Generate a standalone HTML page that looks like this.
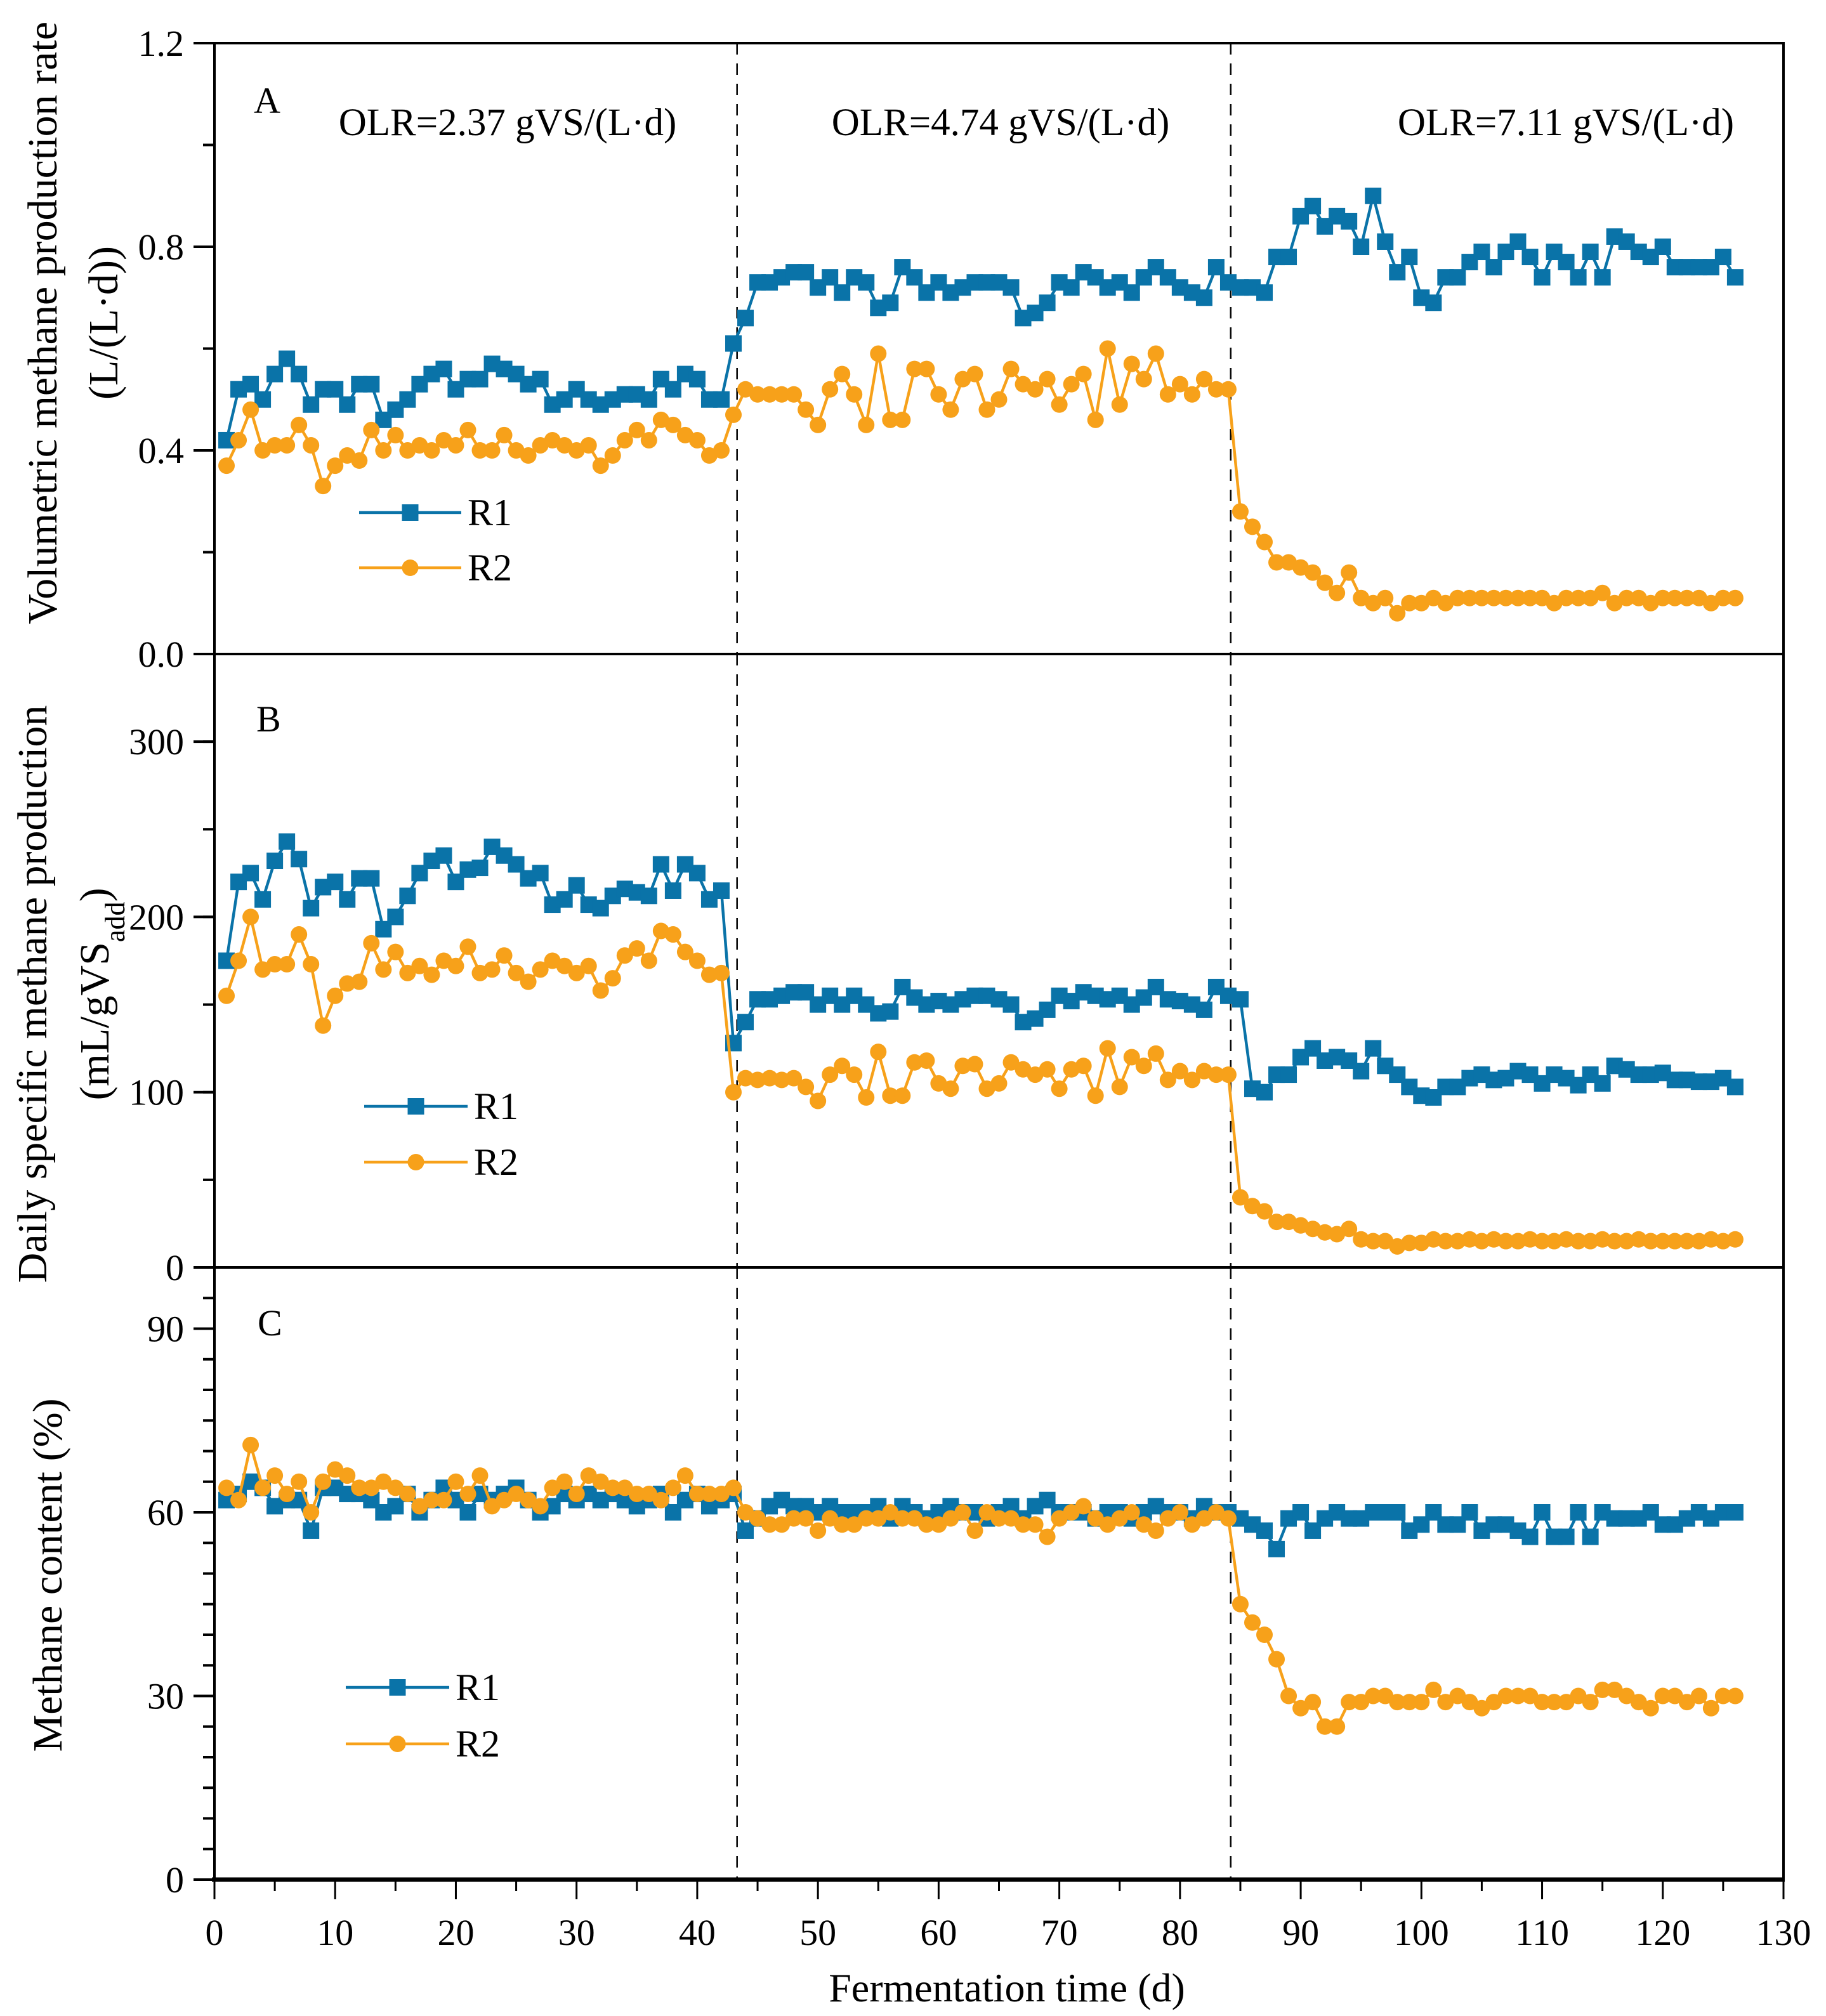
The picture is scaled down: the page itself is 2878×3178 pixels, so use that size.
<!DOCTYPE html>
<html><head><meta charset="utf-8"><style>
html,body{margin:0;padding:0;background:#fff;}
svg{display:block;font-family:"Liberation Serif",serif;}
</style></head><body>
<svg id="chart" width="2878" height="3178" viewBox="0 0 2878 3178" xmlns="http://www.w3.org/2000/svg"></svg>
<script>
const aR1=[0.42,0.52,0.53,0.50,0.55,0.58,0.55,0.49,0.52,0.52, 0.49,0.53,0.53,0.46,0.48,0.50,0.53,0.55,0.56,0.52, 0.54,0.54,0.57,0.56,0.55,0.53,0.54,0.49,0.50,0.52, 0.50,0.49,0.50,0.51,0.51,0.50,0.54,0.52,0.55,0.54, 0.50,0.50,0.61,0.66,0.73,0.73,0.74,0.75,0.75,0.72, 0.74,0.71,0.74,0.73,0.68,0.69,0.76,0.74,0.71,0.73, 0.71,0.72,0.73,0.73,0.73,0.72,0.66,0.67,0.69,0.73, 0.72,0.75,0.74,0.72,0.73,0.71,0.74,0.76,0.74,0.72, 0.71,0.70,0.76,0.73,0.72,0.72,0.71,0.78,0.78,0.86, 0.88,0.84,0.86,0.85,0.80,0.90,0.81,0.75,0.78,0.70, 0.69,0.74,0.74,0.77,0.79,0.76,0.79,0.81,0.78,0.74, 0.79,0.77,0.74,0.79,0.74,0.82,0.81,0.79,0.78,0.80, 0.76,0.76,0.76,0.76,0.78,0.74];
const aR2=[0.37,0.42,0.48,0.40,0.41,0.41,0.45,0.41,0.33,0.37, 0.39,0.38,0.44,0.40,0.43,0.40,0.41,0.40,0.42,0.41, 0.44,0.40,0.40,0.43,0.40,0.39,0.41,0.42,0.41,0.40, 0.41,0.37,0.39,0.42,0.44,0.42,0.46,0.45,0.43,0.42, 0.39,0.40,0.47,0.52,0.51,0.51,0.51,0.51,0.48,0.45, 0.52,0.55,0.51,0.45,0.59,0.46,0.46,0.56,0.56,0.51, 0.48,0.54,0.55,0.48,0.50,0.56,0.53,0.52,0.54,0.49, 0.53,0.55,0.46,0.60,0.49,0.57,0.54,0.59,0.51,0.53, 0.51,0.54,0.52,0.52,0.28,0.25,0.22,0.18,0.18,0.17, 0.16,0.14,0.12,0.16,0.11,0.10,0.11,0.08,0.10,0.10, 0.11,0.10,0.11,0.11,0.11,0.11,0.11,0.11,0.11,0.11, 0.10,0.11,0.11,0.11,0.12,0.10,0.11,0.11,0.10,0.11, 0.11,0.11,0.11,0.10,0.11,0.11];
const bR1=[175,220,225,210,232,243,233,205,217,220, 210,222,222,193,200,212,225,232,235,220, 227,228,240,235,230,222,225,207,210,218, 207,205,212,216,214,212,230,215,230,225, 210,215,128,140,153,153,155,157,157,150, 155,150,155,150,145,146,160,154,150,152, 150,153,155,155,153,150,140,142,147,155, 152,157,155,153,155,150,154,160,153,152, 150,147,160,155,153,102,100,110,110,120, 125,118,120,118,112,125,115,110,103,98, 97,103,103,108,110,107,108,112,110,105, 110,108,104,110,105,115,113,110,110,111, 107,107,106,106,108,103];
const bR2=[155,175,200,170,173,173,190,173,138,155, 162,163,185,170,180,168,172,167,175,172, 183,168,170,178,168,163,170,175,172,168, 172,158,165,178,182,175,192,190,180,175, 167,168,100,108,107,108,107,108,103,95, 110,115,110,97,123,98,98,117,118,105, 102,115,116,102,105,117,113,110,113,102, 113,115,98,125,103,120,115,122,107,112, 107,112,110,110,40,35,32,26,26,24, 22,20,19,22,16,15,15,12,14,14, 16,15,15,16,15,16,15,15,16,15, 15,16,15,15,16,15,15,16,15,15, 15,15,15,16,15,16];
const cR1=[62,63,65,64,61,62,62,57,64,64, 63,63,62,60,61,63,60,62,64,62, 60,63,62,63,64,62,60,61,63,62, 63,62,63,62,61,62,63,60,62,63, 61,62,63,57,59,61,62,61,61,60, 61,60,60,60,61,59,61,60,59,60, 61,60,60,59,60,61,59,61,62,60, 60,60,59,60,60,59,60,61,60,60, 59,61,60,60,59,58,57,54,59,60, 57,59,60,59,59,60,60,60,57,58, 60,58,58,60,57,58,58,57,56,60, 56,56,60,56,60,59,59,59,60,58, 58,59,60,59,60,60];
const cR2=[64,62,71,64,66,63,65,60,65,67, 66,64,64,65,64,63,61,62,62,65, 63,66,61,62,63,62,61,64,65,63, 66,65,64,64,63,63,62,64,66,63, 63,63,64,60,59,58,58,59,59,57, 59,58,58,59,59,60,59,59,58,58, 59,60,57,60,59,59,58,58,56,59, 60,61,59,58,59,60,58,57,59,60, 58,59,60,59,45,42,40,36,30,28, 29,25,25,29,29,30,30,29,29,29, 31,29,30,29,28,29,30,30,30,29, 29,29,30,29,31,31,30,29,28,30, 30,29,30,28,30,30];
const xTicks=[0,10,20,30,40,50,60,70,80,90,100,110,120,130];
const aTicks=[0,0.4,0.8,1.2], aLabels=["0.0","0.4","0.8","1.2"];
const bTicks=[0,100,200,300], bLabels=["0","100","200","300"];
const cTicks=[0,30,60,90], cLabels=["0","30","60","90"];
const dividers=[43.3,84.2];

const NS="http://www.w3.org/2000/svg";
const svg=document.getElementById('chart');
const L=338,R=2811;
const X=d=>L+(R-L)*d/130;
const BLUE="#0a73a8",ORANGE="#f7a11a";
function el(tag,attrs,parent){const e=document.createElementNS(NS,tag);for(const k in attrs)e.setAttribute(k,attrs[k]);(parent||svg).appendChild(e);return e;}
function txt(s,attrs,parent){const e=el('text',attrs,parent);e.textContent=s;return e;}

const panels=[
 {id:'a',top:68,bot:1031,max:1.2,minorStep:0.2,ticks:aTicks,labels:aLabels,r1:aR1,r2:aR2,letter:'A',lx:400,ly:178,
  leg:{x1:566,x2:727,y1:808,y2:895}},
 {id:'b',top:1031,bot:1998,max:350,minorStep:50,ticks:bTicks,labels:bLabels,r1:bR1,r2:bR2,letter:'B',lx:404,ly:1153,
  leg:{x1:574,x2:737,y1:1744,y2:1832}},
 {id:'c',top:1998,bot:2963,max:100,minorStep:5,ticks:cTicks,labels:cLabels,r1:cR1,r2:cR2,letter:'C',lx:406,ly:2105,
  leg:{x1:545,x2:708,y1:2660,y2:2749}}
];

panels.forEach(p=>{
  const Y=v=>p.bot-(p.bot-p.top)*v/p.max;
  const g=el('g',{});
  
  
  const fr=el('rect',{x:L,y:p.top,width:R-L,height:p.bot-p.top,fill:'none',stroke:'#000','stroke-width':4},g);
  
  
  for(let v=0;v<=p.max+1e-9;v+=p.minorStep){
    const y=Y(v);
    el('line',{x1:L-18,x2:L,y1:y,y2:y,stroke:'#000','stroke-width':4},g);
  }
  p.ticks.forEach((v,i)=>{
    const y=Y(v);
    el('line',{x1:L-33,x2:L,y1:y,y2:y,stroke:'#000','stroke-width':4},g);
    const t=txt(p.labels[i],{x:L-48,y:y+20,'text-anchor':'end','font-size':58},g);
    
    
  });
  dividers.forEach(d=>{
    const ln=el('line',{x1:X(d),x2:X(d),y1:p.top,y2:p.bot,stroke:'#000','stroke-width':2.5,'stroke-dasharray':'18,14'},g);
    
    
  });
  [[p.r1,BLUE,'sq','r1'],[p.r2,ORANGE,'ci','r2']].forEach(([arr,col,shape,nm])=>{
    const pts=arr.map((v,i)=>X(i+1)+','+Y(v)).join(' ');
    const pl=el('polyline',{points:pts,fill:'none',stroke:col,'stroke-width':4.5},g);
    
    
    arr.forEach((v,i)=>{
      let m;
      if(shape==='sq') m=el('rect',{x:X(i+1)-13,y:Y(v)-13,width:26,height:26,fill:col},g);
      else m=el('circle',{cx:X(i+1),cy:Y(v),r:13,fill:col},g);
      
      
    });
  });
  const lt=txt(p.letter,{x:p.lx,y:p.ly,'font-size':58},g);
  
  
  const lg=p.leg;
  [[lg.y1,BLUE,'sq','R1'],[lg.y2,ORANGE,'ci','R2']].forEach(([y,col,shape,name])=>{
    const e=el('g',{},g);
    
    
    el('line',{x1:lg.x1,x2:lg.x2,y1:y,y2:y,stroke:col,'stroke-width':4.5},e);
    const mx=(lg.x1+lg.x2)/2;
    if(shape==='sq') el('rect',{x:mx-13,y:y-13,width:26,height:26,fill:col},e);
    else el('circle',{cx:mx,cy:y,r:13,fill:col},e);
    txt(name,{x:lg.x2+10,y:y+20,'font-size':60},e);
  });
});
const cBot=2963;
el('line',{x1:L-4,x2:R+2,y1:cBot,y2:cBot,stroke:'#000','stroke-width':7});
for(let d=0;d<=130;d+=5){
  const major=d%10===0;
  el('line',{x1:X(d),x2:X(d),y1:cBot,y2:cBot+(major?31:18),stroke:'#000','stroke-width':3});
}
xTicks.forEach(d=>{
  const t=txt(String(d),{x:X(d),y:3066,'text-anchor':'middle','font-size':58});
  
  
});
[["OLR=2.37 gVS/(L·d)",800],["OLR=4.74 gVS/(L·d)",1577],["OLR=7.11 gVS/(L·d)",2468]].forEach(([s,x])=>{
  const t=txt(s,{x:x,y:213,'text-anchor':'middle','font-size':61});
  
  
});
const xt=txt("Fermentation time (d)",{x:1587,y:3155,'text-anchor':'middle','font-size':64});


function ytitle(lines,cy,name){
  const g=el('g',{transform:`rotate(-90)`});
  
  
  lines.forEach(([s,x])=>{
    const t=el('text',{x:-cy,y:x+22,'text-anchor':'middle','font-size':66},g);
    t.innerHTML=s;
  });
}
ytitle([["Volumetric methane production rate",67],["(L/(L·d))",163]],509,'y-axis-title-a');
ytitle([["Daily specific methane production",51],["(mL/gVS<tspan baseline-shift=\"sub\" font-size=\"44\">add</tspan>)",149]],1567,'y-axis-title-b');
ytitle([["Methane content (%)",75]],2483,'y-axis-title-c');
</script>
</body></html>
